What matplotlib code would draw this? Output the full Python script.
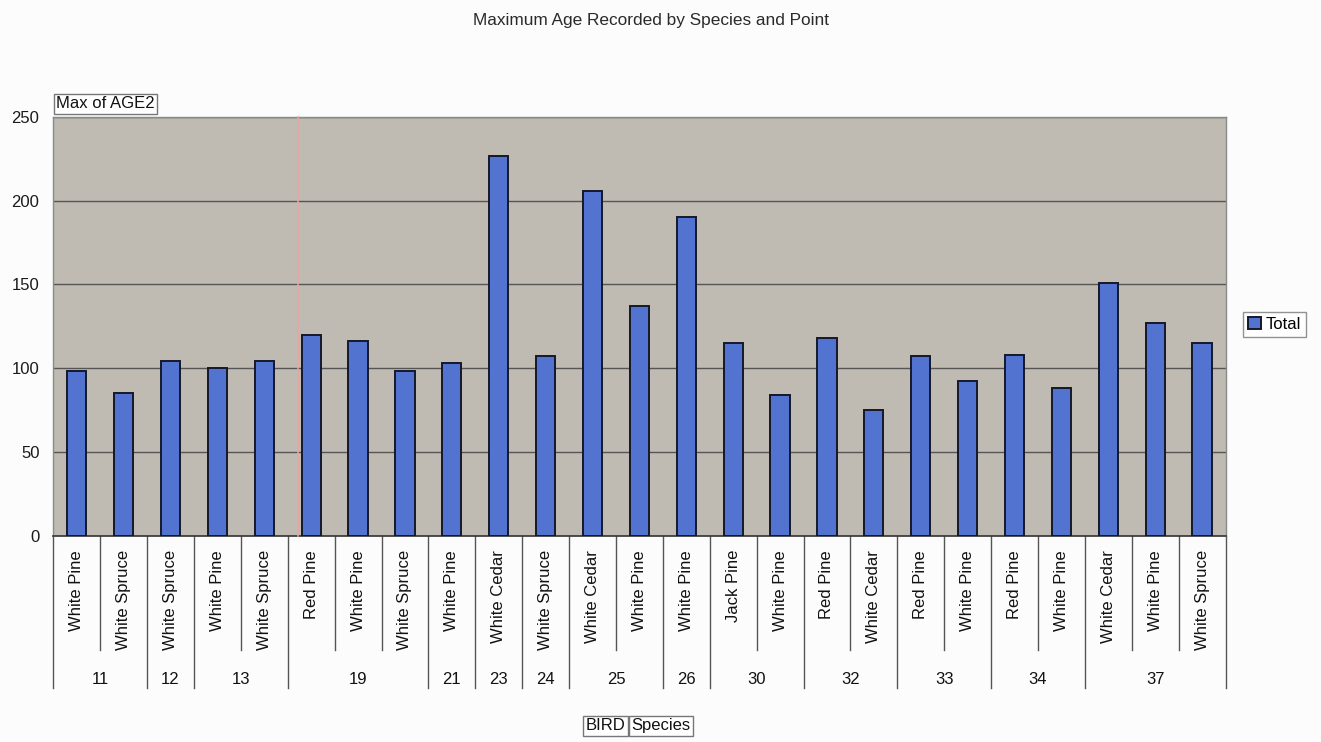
import matplotlib
matplotlib.use("Agg")
import matplotlib.pyplot as plt
import matplotlib.transforms as mtransforms
from matplotlib.lines import Line2D
from matplotlib.patches import Patch

plt.rcParams['font.family'] = ['Liberation Sans', 'DejaVu Sans']

# Pivot data: BIRD point, tree species, maximum AGE2
points = ["11", "11", "12", "13", "13", "19", "19", "19", "21", "23", "24", "25", "25",
          "26", "30", "30", "32", "32", "33", "33", "34", "34", "37", "37", "37"]
species = ["White Pine", "White Spruce", "White Spruce", "White Pine", "White Spruce",
           "Red Pine", "White Pine", "White Spruce", "White Pine", "White Cedar",
           "White Spruce", "White Cedar", "White Pine", "White Pine", "Jack Pine",
           "White Pine", "Red Pine", "White Cedar", "Red Pine", "White Pine",
           "Red Pine", "White Pine", "White Cedar", "White Pine", "White Spruce"]
max_age = [98, 85, 104, 100, 104, 120, 116, 98, 103, 227, 107, 206, 137,
           190, 115, 84, 118, 75, 107, 92, 108, 88, 151, 127, 115]
y_ticks = [0, 50, 100, 150, 200, 250]

W, H = 1321, 742
fig = plt.figure(figsize=(W / 100, H / 100), dpi=100, facecolor="#fcfcfc")

left_px, right_px, top_px, bottom_px = 53.3, 1225.5, 117.0, 535.5
ax = fig.add_axes([left_px / W, 1 - bottom_px / H,
                   (right_px - left_px) / W, (bottom_px - top_px) / H])
ax.set_facecolor("#bfbab2")

n = len(max_age)
xs = list(range(n))
bars = ax.bar(xs, max_age, width=0.41, color="#5274d0",
              edgecolor="#15182a", linewidth=1.4, zorder=3, label="Total")

ax.set_xlim(-0.5, n - 0.5)
ax.set_ylim(0, 250)
ax.set_yticks(y_ticks)
ax.set_yticklabels([str(v) for v in y_ticks], fontsize=12, color="#1a1a1a")
ax.tick_params(axis="y", length=0, pad=10)
ax.set_xticks([])
for yv in y_ticks[1:]:
    ax.axhline(yv, color="#555555", linewidth=1.0, zorder=1)
for side in ("left", "right", "top"):
    ax.spines[side].set_color("#8a8a8a")
    ax.spines[side].set_linewidth(1.0)
ax.spines["bottom"].set_color("#333333")
ax.spines["bottom"].set_linewidth(1.2)

# Two-level category axis drawn as a table under the plot
trans = mtransforms.blended_transform_factory(ax.transData, ax.transAxes)
plot_h = bottom_px - top_px
def ax_y(px):
    return (bottom_px - px) / plot_h

sp_text_top = ax_y(550)
sp_line_end = ax_y(650)
grp_line_end = ax_y(688)
grp_text_y = ax_y(679)

for i, sp in enumerate(species):
    ax.text(i, sp_text_top, sp, rotation=90, ha="center", va="top",
            fontsize=12, color="#111111", transform=trans)

# separators between categories
for i in range(n + 1):
    xb = i - 0.5
    first = i == 0 or i == n
    new_group = first or points[i] != points[i - 1]
    y_end = grp_line_end if new_group else sp_line_end
    ax.plot([xb, xb], [0, y_end], color="#555555", linewidth=1.0,
            transform=trans, clip_on=False)

# point labels centred on their group
start = 0
for i in range(1, n + 1):
    if i == n or points[i] != points[start]:
        mid = (start + i - 1) / 2
        ax.text(mid, grp_text_y, points[start], ha="center", va="center",
                fontsize=12, color="#111111", transform=trans)
        start = i

# faint pink scan streak across the plot
fig.add_artist(Line2D([297.7 / W, 297.7 / W], [1 - top_px / H, 1 - bottom_px / H],
                      transform=fig.transFigure, color="#eca3a3", linewidth=1.2,
                      alpha=0.9, zorder=2))

# title and pivot field buttons
fig.text(651 / W, 1 - 20 / H, "Maximum Age Recorded by Species and Point",
         ha="center", va="center", fontsize=12.4, color="#2a2a2a")
fig.text(56 / W, 1 - 103.5 / H, "Max of AGE2", ha="left", va="center",
         fontsize=12, color="#111111",
         bbox=dict(boxstyle="square,pad=0.15", facecolor="white",
                   edgecolor="#777777", linewidth=1.0))
fig.text(625.5 / W, 1 - 725.5 / H, "BIRD", ha="right", va="center",
         fontsize=12, color="#111111",
         bbox=dict(boxstyle="square,pad=0.15", facecolor="white",
                   edgecolor="#777777", linewidth=1.0))
fig.text(631 / W, 1 - 725.5 / H, "Species", ha="left", va="center",
         fontsize=12, color="#111111",
         bbox=dict(boxstyle="square,pad=0.15", facecolor="white",
                   edgecolor="#777777", linewidth=1.0))

# legend
handle = Patch(facecolor="#5274d0", edgecolor="#15182a", linewidth=1.4)
leg = fig.legend([handle], ["Total"], loc="center",
                 bbox_to_anchor=(1274.5 / W, 1 - 324 / H),
                 bbox_transform=fig.transFigure, fontsize=12,
                 frameon=True, fancybox=False, handlelength=0.75,
                 handleheight=0.75, handletextpad=0.3, borderpad=0.3,
                 borderaxespad=0)
leg.get_frame().set_edgecolor("#777777")
leg.get_frame().set_linewidth(1.0)
leg.get_frame().set_facecolor("white")

fig.savefig("out.png", dpi=100, facecolor=fig.get_facecolor())
